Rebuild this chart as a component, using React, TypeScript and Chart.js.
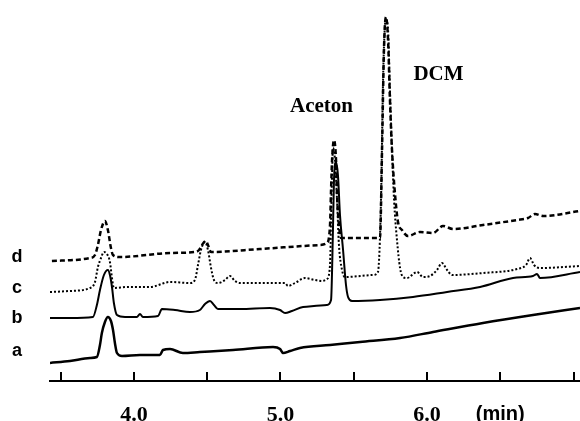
import React, { useEffect, useRef } from 'react';
import { Chart, registerables } from 'chart.js';

Chart.register(...registerables);

// Retention time (min) and detector signal (arbitrary units) for each run.
const timeA = [3.427, 3.563, 3.700, 3.747, 3.768, 3.781, 3.802, 3.822, 3.843, 3.857, 3.870, 3.884, 3.918, 4.041, 4.177, 4.198, 4.246, 4.334, 4.450, 4.676, 4.949, 4.997, 5.017, 5.065, 5.133, 5.338, 5.543, 5.816, 6.041, 6.382, 6.723, 7.044];
const signalA = [18, 20, 23, 24, 36, 48, 59, 64, 60, 51, 38, 28, 25, 26, 26, 31, 32, 28, 29, 31, 34, 32, 28, 30, 33, 36, 39, 43, 49, 58, 66, 73];

const timeB = [3.413, 3.563, 3.720, 3.747, 3.768, 3.795, 3.822, 3.836, 3.850, 3.863, 3.884, 3.939, 4.020, 4.041, 4.061, 4.164, 4.191, 4.280, 4.382, 4.450, 4.485, 4.519, 4.546, 4.573, 4.724, 4.928, 4.997, 5.031, 5.078, 5.154, 5.317, 5.345, 5.358, 5.365, 5.379, 5.392, 5.406, 5.427, 5.447, 5.461, 5.488, 5.679, 5.904, 6.137, 6.362, 6.587, 6.723, 6.751, 6.771, 7.044];
const signalB = [63, 63, 64, 76, 91, 106, 111, 106, 94, 78, 66, 64, 64, 67, 64, 65, 72, 71, 69, 71, 77, 80, 76, 72, 72, 73, 71, 68, 70, 74, 76, 81, 151, 201, 219, 206, 166, 131, 96, 84, 80, 81, 84, 89, 94, 103, 105, 107, 103, 109];

const timeC = [3.427, 3.563, 3.700, 3.734, 3.754, 3.775, 3.795, 3.816, 3.836, 3.850, 3.863, 3.952, 4.109, 4.246, 4.382, 4.416, 4.437, 4.457, 4.485, 4.505, 4.526, 4.546, 4.573, 4.621, 4.655, 4.689, 4.724, 5.031, 5.051, 5.099, 5.167, 5.235, 5.283, 5.317, 5.338, 5.345, 5.352, 5.358, 5.372, 5.386, 5.399, 5.420, 5.440, 5.631, 5.665, 5.686, 5.700, 5.713, 5.720, 5.734, 5.747, 5.761, 5.775, 5.795, 5.816, 5.836, 5.863, 5.932, 5.973, 6.020, 6.068, 6.102, 6.137, 6.171, 6.382, 6.614, 6.676, 6.703, 6.730, 6.771, 7.044];
const signalC = [89, 90, 93, 99, 114, 123, 129, 127, 119, 103, 93, 94, 94, 99, 98, 101, 116, 131, 139, 131, 113, 101, 98, 101, 105, 100, 98, 98, 95, 98, 103, 101, 100, 102, 116, 161, 206, 233, 221, 181, 136, 111, 104, 106, 109, 181, 301, 356, 361, 351, 291, 231, 181, 141, 113, 104, 103, 109, 104, 105, 111, 118, 111, 106, 108, 112, 116, 123, 116, 113, 115];

const timeD = [3.440, 3.700, 3.734, 3.754, 3.775, 3.802, 3.822, 3.843, 3.857, 3.904, 4.246, 4.416, 4.444, 4.464, 4.491, 4.505, 4.526, 4.860, 5.270, 5.317, 5.338, 5.345, 5.352, 5.365, 5.379, 5.386, 5.399, 5.413, 5.679, 5.693, 5.706, 5.720, 5.734, 5.747, 5.761, 5.782, 5.802, 5.829, 5.870, 5.952, 6.041, 6.109, 6.178, 6.382, 6.614, 6.689, 6.737, 6.792, 7.044];
const signalD = [120, 123, 126, 136, 151, 160, 151, 133, 126, 124, 128, 129, 131, 136, 140, 136, 129, 132, 136, 138, 156, 191, 221, 241, 221, 186, 156, 143, 143, 231, 331, 364, 341, 281, 231, 186, 159, 151, 145, 149, 148, 155, 152, 156, 161, 163, 167, 165, 170];

// Run names and where their names sit on the signal scale.
const traceNames = ['a', 'b', 'c', 'd'];
const traceNameLevels = [25, 58, 88, 119];

// Compound names above their peaks (time, signal at text baseline).
const peakNames = ['Aceton', 'DCM'];
const peakNameTimes = [5.28, 6.078];
const peakNameLevels = [269, 301];

// Time-axis labelling: numbered minutes and the unit.
const labelledMinutes = [4, 5, 6];
const axisUnit = '(min)';
const unitTick = 6.5;
const tickStep = 0.5;
const X_MIN = 3.427;
const X_MAX = 7.044;
const Y_MAX = 371;

const toPoints = (t: number[], v: number[]) => t.map((x, i) => ({ x, y: v[i] }));
const near = (a: number, b: number) => Math.abs(a - b) < 1e-6;

const SERIF = '"Liberation Serif", "Times New Roman", serif';
const SANS = '"Liberation Sans", Arial, sans-serif';

const decorPlugin = {
  id: 'chromDecor',
  afterDraw(chart: any) {
    const { ctx, chartArea } = chart;
    const xs = chart.scales.x;
    const ys = chart.scales.y;
    ctx.save();
    // short tick marks rising from the time axis
    ctx.strokeStyle = '#000';
    ctx.lineWidth = 2;
    xs.ticks.forEach((t: any) => {
      const px = Math.round(xs.getPixelForValue(t.value));
      ctx.beginPath();
      ctx.moveTo(px, chartArea.bottom);
      ctx.lineTo(px, chartArea.bottom - 9);
      ctx.stroke();
    });
    ctx.fillStyle = '#000';
    ctx.textAlign = 'center';
    ctx.textBaseline = 'alphabetic';
    // run names at the left of each trace
    ctx.font = `bold 18px ${SANS}`;
    traceNames.forEach((n, i) => {
      ctx.fillText(n, chartArea.left - 33, ys.getPixelForValue(traceNameLevels[i]));
    });
    // compound names
    ctx.font = `bold 21px ${SERIF}`;
    peakNames.forEach((n, i) => {
      ctx.fillText(n, xs.getPixelForValue(peakNameTimes[i]), ys.getPixelForValue(peakNameLevels[i]));
    });
    ctx.restore();
  },
};

export default function App() {
  const canvasRef = useRef<HTMLCanvasElement | null>(null);

  useEffect(() => {
    if (!canvasRef.current) return;
    const base = {
      pointRadius: 0,
      borderColor: '#000',
      cubicInterpolationMode: 'monotone' as const,
      fill: false,
    };
    const chart = new Chart(canvasRef.current, {
      type: 'line',
      data: {
        datasets: [
          { ...base, label: traceNames[0], data: toPoints(timeA, signalA), borderWidth: 2.5 },
          { ...base, label: traceNames[1], data: toPoints(timeB, signalB), borderWidth: 2 },
          { ...base, label: traceNames[2], data: toPoints(timeC, signalC), borderWidth: 2, borderDash: [2, 2] },
          { ...base, label: traceNames[3], data: toPoints(timeD, signalD), borderWidth: 2.5, borderDash: [5, 3] },
        ],
      },
      options: {
        responsive: false,
        animation: false,
        parsing: false,
        layout: { padding: { left: 50, right: 0, top: 10, bottom: 0 } },
        plugins: {
          legend: { display: false },
          tooltip: { enabled: false },
        },
        scales: {
          x: {
            type: 'linear',
            min: X_MIN,
            max: X_MAX,
            afterFit: (scale: any) => {
              scale.height = 40;
              scale.paddingLeft = 0;
              scale.paddingRight = 0;
            },
            grid: { display: false, drawTicks: false },
            border: { display: true, color: '#000', width: 2 },
            ticks: {
              stepSize: tickStep,
              includeBounds: false,
              autoSkip: false,
              maxRotation: 0,
              padding: 21,
              color: '#000',
              font: (c: any) =>
                c.tick && near(c.tick.value, unitTick)
                  ? { family: SANS, size: 20, weight: 'bold' }
                  : { family: SERIF, size: 22, weight: 'bold' },
              callback: (v: any) => {
                const n = Number(v);
                if (labelledMinutes.some((m) => near(m, n))) return n.toFixed(1);
                if (near(n, unitTick)) return axisUnit;
                return '';
              },
            },
          },
          y: {
            type: 'linear',
            display: false,
            min: 0,
            max: Y_MAX,
          },
        },
      },
      plugins: [decorPlugin],
    });
    return () => chart.destroy();
  }, []);

  return (
    <div style={{ position: 'absolute', left: 0, top: 0, width: 580, height: 421, background: '#fff' }}>
      <canvas ref={canvasRef} width={580} height={421} />
    </div>
  );
}
